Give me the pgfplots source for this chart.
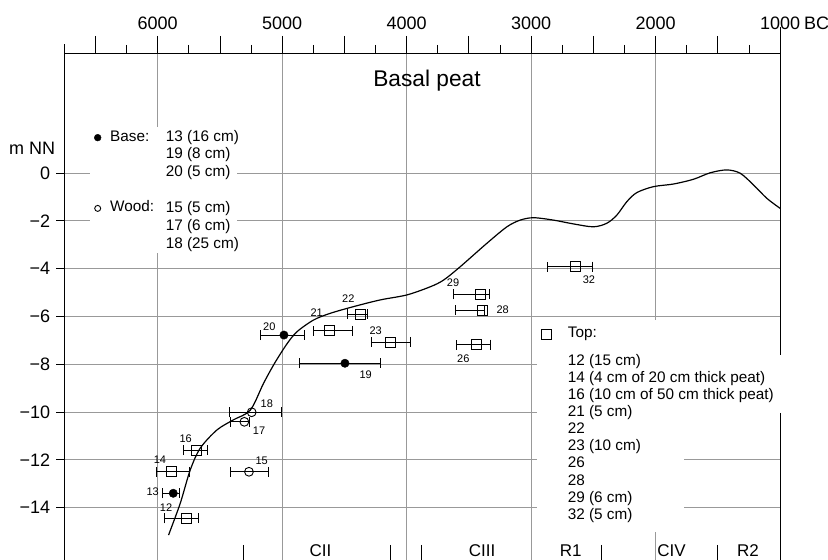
\documentclass[border=0pt]{standalone}
\usepackage{fontspec}
\setmainfont{Liberation Sans}
\usepackage{pgfplots}
\usepackage{pgfplotstable}
\pgfplotsset{compat=1.18}
\definecolor{gridc}{gray}{0.6}

\pgfplotstableread{
x y em ep
-5773 -14.45 174 102
-5888 -12.50 126 142
-5687 -11.59 107 85
-4624 -6.60 121 187
-4375 -5.90 99 62
-4129 -7.07 158 161
-3438 -7.18 164 107
-3393 -5.73 215 20
-3409 -5.08 215 70
-2648 -3.92 220 142
}\topdata

\pgfplotstableread{
x y em ep
-5875 -13.40 85 46
-4496 -7.96 367 282
-4986 -6.78 192 161
}\basedata

\pgfplotstableread{
x y em ep
-5267 -12.50 152 155
-5304 -10.41 110 40
-5245 -10.01 180 241
}\wooddata

\begin{document}
\begin{tikzpicture}
\begin{axis}[
  x=0.1245pt, y=23.9pt,
  xmin=-6750, xmax=-1000, ymin=-16.2, ymax=5,
  axis x line=top, axis y line=left,
  axis line style={-, black, line width=0.9pt},
  xtick={-6500,-6000,...,-1000},
  minor xtick={-6250,-5750,...,-1250},
  xticklabels={,6000,,5000,,4000,,3000,,2000,,1000\rlap{\kern4pt BC}},
  ytick={-14,-12,...,0},
  yticklabels={−14,−12,−10,−8,−6,−4,−2,0},
  tick align=outside,
  major tick length=17.7pt, minor tick length=8.7pt,
  ytick style={/pgfplots/major tick length=8pt},
  tick style={black, line width=0.9pt},
  ticklabel style={font=\fontsize{18}{20}\selectfont},
  xticklabel style={yshift=3pt},
  yticklabel style={xshift=7pt},
  ymajorgrids, grid style={gridc, line width=0.9pt},
  clip=false,
]
% vertical grid lines
\pgfplotsinvokeforeach{-6000,-5000,-4000,-3000,-2000}{
  \draw[gridc, line width=0.9pt] (axis cs:#1,5) -- (axis cs:#1,-16.2);
}
% white backgrounds behind legends
\fill[white] (axis cs:-6543,1.92) rectangle (axis cs:-5363,-3.35);
\fill[white] (axis cs:-2953,-6.15) rectangle (axis cs:-1000,-10.04);
\fill[white] (axis cs:-2953,-10.04) rectangle (axis cs:-1773,-15.0);
% right frame segments and left top extension
\draw[black, line width=0.9pt] (axis cs:-1000,6.12) -- (axis cs:-1000,-7.62);
\draw[black, line width=0.9pt] (axis cs:-1000,-10.04) -- (axis cs:-1000,-16.2);
\draw[black, line width=0.9pt] (axis cs:-6750,5) -- (axis cs:-6750,5.4);
% period separators
\pgfplotsinvokeforeach{-5315,-4134,-3885,-2436,-1504}{
  \draw[black, line width=0.9pt] (axis cs:#1,-15.56) -- (axis cs:#1,-16.2);
}
% curve
\addplot[black, line width=1.2pt, smooth, tension=0.5] coordinates {
(-5913,-15.15) (-5819,-13.82) (-5739,-12.43) (-5658,-11.51) (-5524,-10.75)
(-5393,-10.33) (-5256,-9.92) (-5150,-8.80) (-5060,-7.95) (-4962,-7.15)
(-4881,-6.64) (-4748,-6.15) (-4614,-5.87) (-4427,-5.59) (-4213,-5.31)
(-3998,-5.10) (-3811,-4.76) (-3704,-4.48) (-3570,-3.92) (-3356,-2.94)
(-3195,-2.25) (-3088,-1.97) (-2982,-1.87) (-2821,-1.97) (-2660,-2.13)
(-2500,-2.25) (-2392,-2.10) (-2312,-1.76) (-2232,-1.20) (-2152,-0.82)
(-2018,-0.57) (-1857,-0.46) (-1696,-0.26) (-1562,0.01) (-1429,0.13)
(-1321,-0.01) (-1214,-0.50) (-1107,-1.06) (-1000,-1.48)
};
% data with error bars
\addplot[black, only marks, mark=square, mark size=5pt,
  mark options={solid, fill=white, line width=0.9pt},
  error bars/.cd, x dir=both, x explicit, error mark=|,
  error bar style={line width=0.9pt, black},
  error mark options={line width=0.9pt, mark size=5pt, black}]
  table[x=x, y=y, x error minus=em, x error plus=ep] {\topdata};
\addplot[black, only marks, mark=*, mark size=4.2pt,
  mark options={solid, fill=black},
  error bars/.cd, x dir=both, x explicit, error mark=|,
  error bar style={line width=0.9pt, black},
  error mark options={line width=0.9pt, mark size=5pt, black}]
  table[x=x, y=y, x error minus=em, x error plus=ep] {\basedata};
\addplot[black, only marks, mark=o, mark size=4.4pt,
  mark options={solid, fill=white, line width=0.9pt},
  error bars/.cd, x dir=both, x explicit, error mark=|,
  error bar style={line width=0.9pt, black},
  error mark options={line width=0.9pt, mark size=5pt, black}]
  table[x=x, y=y, x error minus=em, x error plus=ep] {\wooddata};
% legend symbols
\addplot[black, only marks, mark=*, mark size=3.4pt] coordinates {(-6482,1.48)};
\addplot[black, only marks, mark=o, mark size=3pt, mark options={line width=0.9pt}] coordinates {(-6482,-1.48)};
\addplot[black, only marks, mark=square, mark size=5pt, mark options={line width=0.9pt}] coordinates {(-2881,-6.75)};
% data labels
\begin{scope}[every node/.style={font=\fontsize{11}{12}\selectfont, inner sep=0pt}]
\node at (axis cs:-5933,-13.99) {12};
\node at (axis cs:-6040,-13.33) {13};
\node at (axis cs:-5982,-11.98) {14};
\node at (axis cs:-5165,-12.05) {15};
\node at (axis cs:-5775,-11.10) {16};
\node at (axis cs:-5186,-10.78) {17};
\node at (axis cs:-5124,-9.67) {18};
\node at (axis cs:-4329,-8.45) {19};
\node at (axis cs:-5104,-6.43) {20};
\node at (axis cs:-4723,-5.83) {21};
\node at (axis cs:-4469,-5.27) {22};
\node at (axis cs:-4249,-6.60) {23};
\node at (axis cs:-3545,-7.75) {26};
\node at (axis cs:-3229,-5.73) {28};
\node at (axis cs:-3628,-4.60) {29};
\node at (axis cs:-2536,-4.48) {32};
\end{scope}
% legend texts
\begin{scope}[every node/.style={font=\fontsize{15.3}{17}\selectfont, inner sep=0pt, anchor=west, text height=0.72em, text depth=0pt}]
\node at (axis cs:-6383,1.48) {Base:};
\node at (axis cs:-5936,1.48) {13 (16 cm)};
\node at (axis cs:-5936,0.75) {19 (8 cm)};
\node at (axis cs:-5936,0.01) {20 (5 cm)};
\node at (axis cs:-6383,-1.48) {Wood:};
\node at (axis cs:-5936,-1.52) {15 (5 cm)};
\node at (axis cs:-5936,-2.27) {17 (6 cm)};
\node at (axis cs:-5936,-3.01) {18 (25 cm)};
\node at (axis cs:-2707,-6.75) {Top:};
\node at (axis cs:-2707,-7.92) {12 (15 cm)};
\node at (axis cs:-2707,-8.63) {14 (4 cm of 20 cm thick peat)};
\node at (axis cs:-2707,-9.33) {16 (10 cm of 50 cm thick peat)};
\node at (axis cs:-2707,-10.05) {21 (5 cm)};
\node at (axis cs:-2707,-10.75) {22};
\node at (axis cs:-2707,-11.48) {23 (10 cm)};
\node at (axis cs:-2707,-12.18) {26};
\node at (axis cs:-2707,-12.92) {28};
\node at (axis cs:-2707,-13.64) {29 (6 cm)};
\node at (axis cs:-2707,-14.35) {32 (5 cm)};
\end{scope}
% period labels
\begin{scope}[every node/.style={font=\fontsize{17}{18}\selectfont, inner sep=0pt}]
\node at (axis cs:-4692,-15.8) {CII};
\node at (axis cs:-3395,-15.8) {CIII};
\node at (axis cs:-2683,-15.8) {R1};
\node at (axis cs:-1873,-15.8) {CIV};
\node at (axis cs:-1259,-15.8) {R2};
\end{scope}
% title and y label
\node[font=\fontsize{22.7}{24}\selectfont, inner sep=0pt] at (axis cs:-3837,3.86) {Basal peat};
\node[font=\fontsize{18}{20}\selectfont, inner sep=0pt, anchor=east] at (axis cs:-6750,1.05) [xshift=-9pt] {m NN};
\coordinate (bbl) at (axis cs:-7266.7,-16.19);
\coordinate (bbr) at (axis cs:-616,7.24);
\end{axis}
\pgfresetboundingbox
\useasboundingbox (bbl) rectangle (bbr);
\end{tikzpicture}
\end{document}
